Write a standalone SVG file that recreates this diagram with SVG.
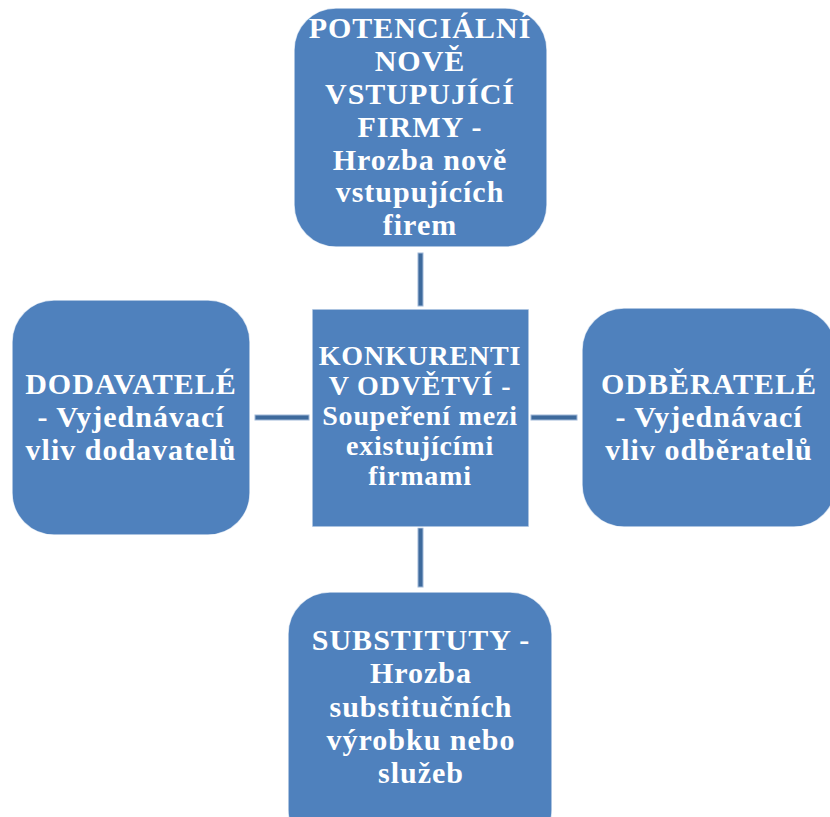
<svg xmlns="http://www.w3.org/2000/svg" width="830" height="817" viewBox="0 0 830 817">
<style>
.box{fill:#4F81BD;stroke:#ffffff;stroke-width:1.5;stroke-opacity:0.7}
.conn{fill:#3E6A9C;stroke:#9FB8D8;stroke-width:1}
.t{font-family:"Liberation Serif","Times New Roman",serif;font-weight:bold;font-size:30px;fill:#ffffff;text-anchor:middle;letter-spacing:1px}
.c{font-size:28px;letter-spacing:0.8px}
</style>
<rect width="830" height="817" fill="#ffffff"/>
<g id="connectors">
<rect class="conn" x="418" y="253" width="5" height="53"/>
<rect class="conn" x="255" y="415" width="54" height="5"/>
<rect class="conn" x="531" y="415" width="46" height="5"/>
<rect class="conn" x="418" y="528" width="5" height="59"/>
</g>
<g id="node-top">
<rect class="box" x="294" y="8" width="253" height="239" rx="42"/>
<text class="t" x="420" y="38">POTENCIÁLNÍ</text>
<text class="t" x="420" y="71">NOVĚ</text>
<text class="t" x="420" y="104">VSTUPUJÍCÍ</text>
<text class="t" x="420" y="137">FIRMY -</text>
<text class="t" x="420" y="170">Hrozba nově</text>
<text class="t" x="420" y="202">vstupujících</text>
<text class="t" x="420" y="235">firem</text>
</g>
<g id="node-left">
<rect class="box" x="12" y="300" width="238" height="235" rx="42"/>
<text class="t" x="131" y="394">DODAVATELÉ</text>
<text class="t" x="131" y="427">- Vyjednávací</text>
<text class="t" x="131" y="460">vliv dodavatelů</text>
</g>
<g id="node-center">
<rect class="box" x="312" y="309" width="217" height="218"/>
<text class="t c" x="420" y="365">KONKURENTI</text>
<text class="t c" x="420" y="395">V ODVĚTVÍ -</text>
<text class="t c" x="420" y="425">Soupeření mezi</text>
<text class="t c" x="420" y="455">existujícími</text>
<text class="t c" x="420" y="485">firmami</text>
</g>
<g id="node-right">
<rect class="box" x="582" y="308" width="254" height="219" rx="42"/>
<text class="t" x="709" y="394">ODBĚRATELÉ</text>
<text class="t" x="709" y="427">- Vyjednávací</text>
<text class="t" x="709" y="460">vliv odběratelů</text>
</g>
<g id="node-bottom">
<rect class="box" x="288" y="592" width="264" height="260" rx="42"/>
<text class="t" x="421" y="650">SUBSTITUTY -</text>
<text class="t" x="421" y="683">Hrozba</text>
<text class="t" x="421" y="717">substitučních</text>
<text class="t" x="421" y="750">výrobku nebo</text>
<text class="t" x="421" y="783">služeb</text>
</g>
</svg>
